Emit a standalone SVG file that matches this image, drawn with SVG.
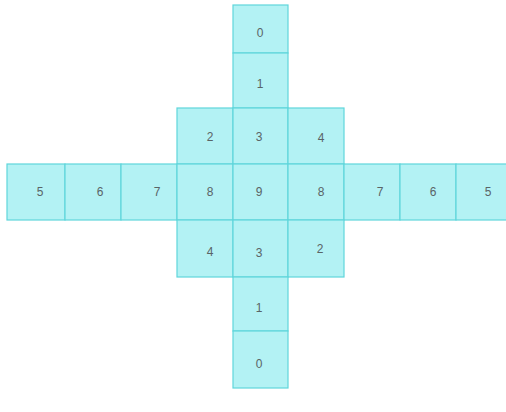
<svg xmlns="http://www.w3.org/2000/svg" width="506" height="412" viewBox="0 0 506 412">
<style>
.c rect{fill:#b3f2f4;stroke:#5fd6db;stroke-width:1.2}
.c text{font-family:"Liberation Sans",Arial,sans-serif;font-size:12px;fill:#5a6466;text-anchor:middle;dominant-baseline:central}
</style>
<rect width="506" height="412" fill="#ffffff"/>
<g class="c">
<g id="v0top"><rect x="233" y="5" width="55" height="48"/><text x="260" y="33">0</text></g>
<g id="v1top"><rect x="233" y="53" width="55" height="55"/><text x="260" y="84">1</text></g>
<g id="r2a"><rect x="177" y="108" width="56" height="56"/><text x="210" y="137">2</text></g>
<g id="r3a"><rect x="233" y="108" width="55" height="56"/><text x="259" y="137">3</text></g>
<g id="r4a"><rect x="288" y="108" width="56" height="56"/><text x="321" y="138">4</text></g>
<g id="h5l"><rect x="7" y="164" width="58" height="56"/><text x="40" y="192">5</text></g>
<g id="h6l"><rect x="65" y="164" width="56" height="56"/><text x="100" y="192">6</text></g>
<g id="h7l"><rect x="121" y="164" width="56" height="56"/><text x="157" y="192">7</text></g>
<g id="h8l"><rect x="177" y="164" width="56" height="56"/><text x="210" y="192">8</text></g>
<g id="h9"><rect x="233" y="164" width="55" height="56"/><text x="259" y="192">9</text></g>
<g id="h8r"><rect x="288" y="164" width="56" height="56"/><text x="321" y="192">8</text></g>
<g id="h7r"><rect x="344" y="164" width="56" height="56"/><text x="380" y="192">7</text></g>
<g id="h6r"><rect x="400" y="164" width="56" height="56"/><text x="433" y="192">6</text></g>
<g id="h5r"><rect x="456" y="164" width="52" height="56"/><text x="488" y="192">5</text></g>
<g id="r4b"><rect x="177" y="220" width="56" height="57"/><text x="210" y="252">4</text></g>
<g id="r3b"><rect x="233" y="220" width="55" height="57"/><text x="259" y="253">3</text></g>
<g id="r2b"><rect x="288" y="220" width="56" height="57"/><text x="320" y="249">2</text></g>
<g id="v1bot"><rect x="233" y="277" width="55" height="54"/><text x="259" y="308">1</text></g>
<g id="v0bot"><rect x="233" y="331" width="55" height="57"/><text x="259" y="364">0</text></g>
</g>
<g id="connectors"/>
</svg>
